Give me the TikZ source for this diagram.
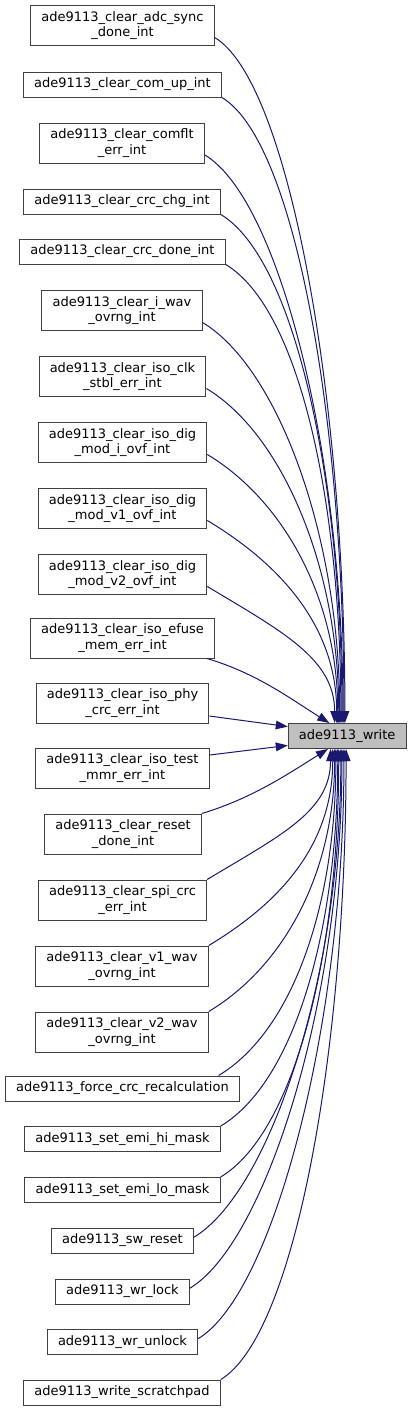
\documentclass[tikz,border=0pt]{standalone}
\usepackage{fontspec}
\setmainfont{DejaVu Sans}
\usetikzlibrary{arrows.meta}
\definecolor{edgeblue}{HTML}{191970}
\definecolor{boxline}{HTML}{404040}
\definecolor{hilite}{HTML}{BFBFBF}
\tikzset{
  fn/.style       = {rectangle, draw=boxline, fill=white, line width=0.75pt,
                     inner xsep=8pt, inner ysep=4.4pt, minimum height=18.75pt,
                     align=center, font=\fontsize{9.75}{11.5}\selectfont},
  fnmain/.style   = {fn, fill=hilite},
  callflow/.style = {{Triangle[length=9pt,width=6.5pt]}-, draw=edgeblue, line width=0.75pt},
}

\begin{document}
\begin{tikzpicture}[x=0.75pt, y=-0.75pt]
      \fill[white] (0,0) rectangle (412,1411);
      \useasboundingbox (0,0) rectangle (412,1411);
      \node[fn] (adcsync)  at (122.5,25.5)   {ade9113\_clear\_adc\_sync\\\_done\_int};
      \node[fn] (comup)    at (122.5,84.5)   {ade9113\_clear\_com\_up\_int};
      \node[fn] (comflt)   at (122,143)      {ade9113\_clear\_comflt\\\_err\_int};
      \node[fn] (crcchg)   at (122,201.5)    {ade9113\_clear\_crc\_chg\_int};
      \node[fn] (crcdone)  at (122.5,251.5)  {ade9113\_clear\_crc\_done\_int};
      \node[fn] (iwav)     at (122,310.5)    {ade9113\_clear\_i\_wav\\\_ovrng\_int};
      \node[fn] (isoclk)   at (122.5,376.5)  {ade9113\_clear\_iso\_clk\\\_stbl\_err\_int};
      \node[fn] (modi)     at (122.5,442.5)  {ade9113\_clear\_iso\_dig\\\_mod\_i\_ovf\_int};
      \node[fn] (modvone)  at (122.5,508.5)  {ade9113\_clear\_iso\_dig\\\_mod\_v1\_ovf\_int};
      \node[fn] (modvtwo)  at (122.5,574.5)  {ade9113\_clear\_iso\_dig\\\_mod\_v2\_ovf\_int};
      \node[fn] (efuse)    at (122.5,638)    {ade9113\_clear\_iso\_efuse\\\_mem\_err\_int};
      \node[fn] (phy)      at (122.5,703)    {ade9113\_clear\_iso\_phy\\\_crc\_err\_int};
      \node[fn] (test)     at (122.5,768)    {ade9113\_clear\_iso\_test\\\_mmr\_err\_int};
      \node[fn] (reset)    at (123,834)      {ade9113\_clear\_reset\\\_done\_int};
      \node[fn] (spicrc)   at (122.5,900)    {ade9113\_clear\_spi\_crc\\\_err\_int};
      \node[fn] (vonewav)  at (122,966)      {ade9113\_clear\_v1\_wav\\\_ovrng\_int};
      \node[fn] (vtwowav)  at (122,1032)     {ade9113\_clear\_v2\_wav\\\_ovrng\_int};
      \node[fn] (force)    at (122.5,1088.5) {ade9113\_force\_crc\_recalculation};
      \node[fn] (emihi)    at (122.5,1139)   {ade9113\_set\_emi\_hi\_mask};
      \node[fn] (emilo)    at (122.5,1190)   {ade9113\_set\_emi\_lo\_mask};
      \node[fn] (swreset)  at (122.5,1240.5) {ade9113\_sw\_reset};
      \node[fn] (wrlock)   at (122.5,1291.5) {ade9113\_wr\_lock};
      \node[fn] (wrunlock) at (122.5,1342)   {ade9113\_wr\_unlock};
      \node[fn] (scratch)  at (122,1392.5)   {ade9113\_write\_scratchpad};
      \node[fnmain] (write) at (347.2,736)   {ade9113\_write};
      % callers above
      \draw[callflow] (write.100) .. controls +(0,-322) and +(75,45) .. ([yshift=-9pt]adcsync.east);
      \draw[callflow] (write.104) .. controls +(0,-294) and +(75,45) .. (comup.south east);
      \draw[callflow] (write.108) .. controls +(0,-267) and +(75,45) .. ([yshift=-9pt]comflt.east);
      \draw[callflow] (write.112) .. controls +(0,-239) and +(75,45) .. (crcchg.south east);
      \draw[callflow] (write.116) .. controls +(0,-216) and +(75,45) .. (crcdone.south east);
      \draw[callflow] (write.120) .. controls +(0,-188) and +(75,45) .. ([yshift=-9pt]iwav.east);
      \draw[callflow] (write.123) .. controls +(0,-157) and +(75,45) .. ([yshift=-9pt]isoclk.east);
      \draw[callflow] (write.126) .. controls +(0,-126) and +(75,45) .. ([yshift=-9pt]modi.east);
      \draw[callflow] (write.129) .. controls +(0,-95) and +(75,45) .. ([yshift=-9pt]modvone.east);
      \draw[callflow] (write.134) .. controls +(0,-64) and +(75,45) .. ([yshift=-9pt]modvtwo.east);
      \draw[callflow] (write.144) .. controls +(-40,-25) and +(50,15) .. ([xshift=-6pt]efuse.south east);
      \draw[callflow] (write.171) -- ([yshift=-9.75pt]phy.east);
      \draw[callflow] (write.189) -- ([yshift=9.75pt]test.east);
      % callers below
      \draw[callflow] (write.214) .. controls +(-40,25) and +(50,-15) .. (reset.north east);
      \draw[callflow] (write.218) .. controls +(0,62) and +(75,-45) .. (spicrc.north east);
      \draw[callflow] (write.222) .. controls +(0,93) and +(75,-45) .. (vonewav.north east);
      \draw[callflow] (write.226) .. controls +(0,124) and +(75,-45) .. (vtwowav.north east);
      \draw[callflow] (write.229) .. controls +(0,154) and +(75,-45) .. ([xshift=-16pt]force.north east);
      \draw[callflow] (write.234) .. controls +(0,177) and +(75,-45) .. (emihi.north east);
      \draw[callflow] (write.237) .. controls +(0,201) and +(75,-45) .. (emilo.north east);
      \draw[callflow] (write.244) .. controls +(0,230) and +(75,-45) .. ([yshift=2.5pt]swreset.east);
      \draw[callflow] (write.248) .. controls +(0,254) and +(75,-45) .. ([yshift=2.5pt]wrlock.east);
      \draw[callflow] (write.256) .. controls +(0,277) and +(75,-45) .. ([yshift=2.5pt]wrunlock.east);
      \draw[callflow] (write.265) .. controls +(0,297) and +(75,-45) .. (scratch.north east);
\end{tikzpicture}
\end{document}
